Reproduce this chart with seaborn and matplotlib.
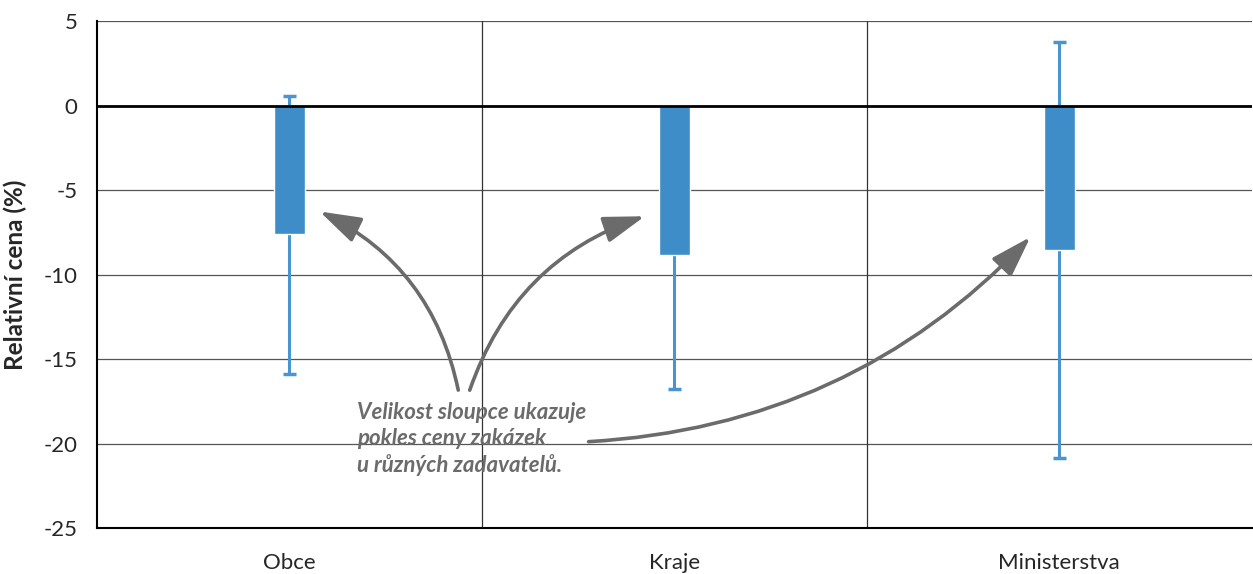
import numpy as np
import pandas as pd
import matplotlib
matplotlib.use("Agg")
import matplotlib.pyplot as plt
import seaborn as sns
from matplotlib.patches import FancyArrowPatch

categories = ["Obce", "Kraje", "Ministerstva"]
bar_values = [-7.6, -8.85, -8.55]
whisker_low = [-15.9, -16.75, -20.85]
whisker_high = [0.55, 0.0, 3.75]

sns.set_style("white")
plt.rcParams['font.family'] = ['Lato', 'DejaVu Sans']
plt.rcParams['axes.unicode_minus'] = False

df = pd.DataFrame({"kategorie": categories, "cena": bar_values})

fig = plt.figure(figsize=(12.53, 5.74), dpi=100)
ax = fig.add_axes([0.0774, 0.0801, 0.9216, 0.8833])

# grid
for yv in [5, -5, -10, -15, -20]:
    ax.axhline(yv, color="#555555", lw=0.9, zorder=0)
for xv in [0.5, 1.5]:
    ax.axvline(xv, color="#333333", lw=0.9, zorder=0)

# whiskers
x = np.arange(len(categories))
ax.vlines(x, whisker_low, whisker_high, color="#4A94CF", lw=2.2, zorder=2)
ax.hlines(whisker_low, x - 0.017, x + 0.017, color="#4A94CF", lw=2.5, zorder=2)
hi = [(xi, h) for xi, h in zip(x, whisker_high) if h > 0]
ax.hlines([h for _, h in hi], [xi - 0.017 for xi, _ in hi], [xi + 0.017 for xi, _ in hi],
          color="#4A94CF", lw=2.5, zorder=2)

sns.barplot(data=df, x="kategorie", y="cena", color="#3E8DC9", saturation=1,
            width=0.08, ax=ax, zorder=3)

ax.axhline(0, color="black", lw=2, zorder=4)

ax.set_xlim(-0.5, 2.5)
ax.set_ylim(-25, 5)
ax.set_yticks([5, 0, -5, -10, -15, -20, -25])
ax.set_xlabel("")
ax.set_ylabel("Relativní cena (%)", fontsize=17.5, fontweight="bold", labelpad=12)
ax.tick_params(axis="both", labelsize=16, length=0)
ax.tick_params(axis="x", pad=18)
ax.tick_params(axis="y", pad=14)
for s in ["top", "right"]:
    ax.spines[s].set_visible(False)
ax.spines["left"].set_color("black")
ax.spines["left"].set_linewidth(1.5)
ax.spines["bottom"].set_color("black")
ax.spines["bottom"].set_linewidth(1.5)

# annotation
gray = "#6B6B6B"
ax.text(0.176, -17.55, "Velikost sloupce ukazuje\npokles ceny zakázek\nu různých zadavatelů.",
        fontsize=16, color=gray, style="italic", fontweight="bold",
        family=["Lato", "DejaVu Sans"], va="top", ha="left", linespacing=1.28)

arrows = [
    ((0.44, -17.0), (0.072, -6.2), 0.25),
    ((0.466, -17.0), (0.93, -6.5), -0.25),
    ((0.77, -19.9), (1.93, -7.66), 0.2),
]
for start, end, rad in arrows:
    a = FancyArrowPatch(start, end, connectionstyle=f"arc3,rad={rad}",
                        arrowstyle="-|>,head_length=1.4,head_width=0.45",
                        mutation_scale=18, color=gray, lw=2.6, zorder=5)
    ax.add_patch(a)

fig.savefig("out.png", dpi=100)
